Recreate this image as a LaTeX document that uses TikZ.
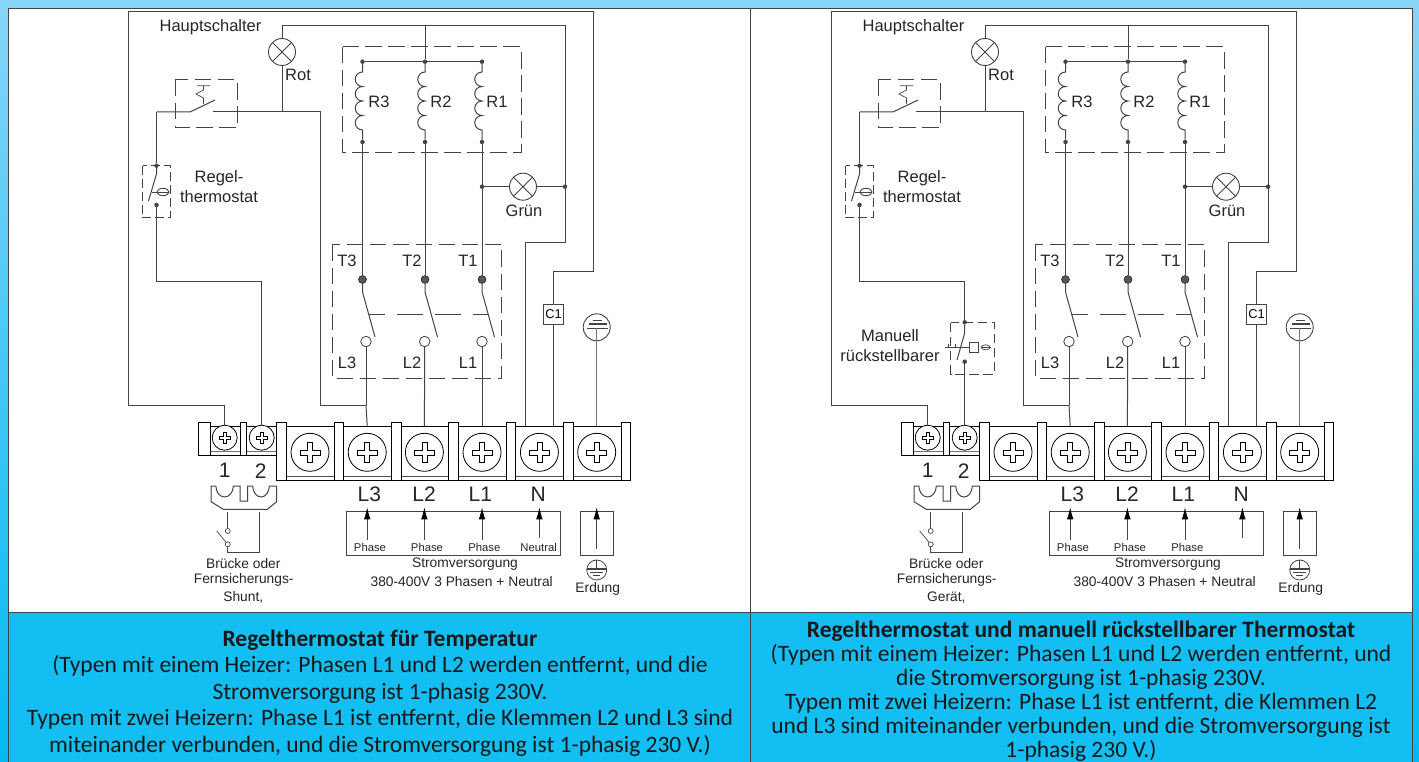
\documentclass[tikz,border=0pt]{standalone}
\usepackage{fontspec}
\setmainfont{Liberation Sans}
\newfontfamily\capfont{Carlito}
\usetikzlibrary{
    arrows.meta,
    calc,
    positioning,
    shapes.geometric
}
\definecolor{ltgrau}{HTML}{444444}
\definecolor{himmel}{HTML}{86D5F8}
\definecolor{ozean}{HTML}{00BAF4}
\definecolor{tafel}{HTML}{13BEF3}
\tikzset{ltg/.style={draw=ltgrau, line width=1pt}}
\tikzset{dbox/.style={draw=ltgrau, line width=1pt, dash pattern=on 16.5pt off 6.5pt}}
\tikzset{kpkt/.style={inner sep=0pt, minimum size=4.5pt, circle, fill=ltgrau}}
\tikzset{tpkt/.style={inner sep=0pt, minimum size=8pt, circle, draw=black, fill=ltgrau!90}}
\tikzset{opkt/.style={inner sep=0pt, minimum size=10.5pt, circle, draw=ltgrau, line width=0.8pt, fill=white}}
\tikzset{kpkto/.style={inner sep=0pt, minimum size=5pt, circle, draw=ltgrau, line width=0.7pt, fill=white}}
\tikzset{lampe/.style={inner sep=0pt, minimum size=27pt, circle, draw=ltgrau, line width=0.9pt, path picture={
    \draw[ltgrau, line width=0.8pt] (path picture bounding box.north west) -- (path picture bounding box.south east)
    (path picture bounding box.north east) -- (path picture bounding box.south west);}}}
\tikzset{schraube/.style={inner sep=0pt, circle, draw=black, line width=0.8pt, fill=white}}
\tikzset{steg/.style={draw=black, line width=0.8pt, fill=white}}
\tikzset{pfeil/.style={draw=ltgrau, line width=0.8pt, -{Latex[length=12pt,width=6.5pt,black]}}}
\tikzset{tlab/.style={inner sep=0pt, text=black!85, font=\fontsize{16.5pt}{18pt}\selectfont}}
\tikzset{klab/.style={inner sep=0pt, text=black!85, font=\fontsize{21pt}{23pt}\selectfont}}
\tikzset{ulab/.style={inner sep=0pt, text=black!85, font=\fontsize{13.8pt}{16pt}\selectfont}}
\tikzset{plab/.style={inner sep=0pt, text=black!85, font=\fontsize{11.3pt}{13pt}\selectfont}}
\tikzset{capt/.style={inner sep=0pt, align=center, text=black!90, font=\capfont\fontsize{23.5pt}{26.5pt}\selectfont}}
\tikzset{schlitz/.pic={\draw[black, line width=0.6pt, fill=white] (-1,-.25) -- (-.25,-.25) -- (-.25,-1) -- (.25,-1) -- (.25,-.25)
    -- (1,-.25) -- (1,.25) -- (.25,.25) -- (.25,1) -- (-.25,1) -- (-.25,.25) -- (-1,.25) -- cycle;}}

\newcommand{\schaltplan}{
    % klemmleiste
    \draw[steg] (198.3,426) rectangle (276.7,455);
    \draw[black!55] (210.7,450.7) -- (276.7,450.7);
    \draw[steg] (276.7,426) rectangle (630,480.7);
    \draw[black!70] (286,476) -- (625,476);
    \draw[steg] (198.3,422) rectangle (210.7,455);
    \draw[steg] (240.7,422) rectangle (246.7,455);
    \foreach \x in {281.3,338.7,396.5,453.5,511,568.3,625.7}
        \draw[steg] (\x-4.7,422) rectangle (\x+4.7,480.7);

    \foreach \i/\x in {1/224.7,2/261.7}{
        \node[schraube, minimum size=25pt] (sk\i) at (\x,437.7) {};
        \pic[scale=5.5] at (sk\i) {schlitz};
        \coordinate (k\i) at (\x,426);
    }
    \foreach \i/\x in {0/310,3/367.2,4/424.4,5/482,6/539.4,7/596.7}{
        \node[schraube, minimum size=38pt] (sk\i) at (\x,452.3) {};
        \pic[scale=10] at (sk\i) {schlitz};
        \coordinate (k\i) at (\x,426);
    }

    % aussenleitung und leuchte rot
    \coordinate (a1) at (128,405);
    \coordinate (a2) at (128,12);
    \coordinate (a3) at (593,12);
    \coordinate (a4) at (593,271);
    \coordinate (a5) at (553.5,271);
    \draw[ltg] (k1) |- (a1) -- (a2) -- (a3) -- (a4) -- (a5) -- (k6-|a5);

    \coordinate (b1) at (282,26);
    \coordinate (b2) at (565,26);
    \coordinate (b3) at (565,243);
    \coordinate (b4) at (525,243);
    \draw[ltg] (b1) -- (b2) -- (b3) -- (b4) -- (k6-|b4);
    \node[lampe] (rot) at (282,52) {};
    \draw[ltg] (b1) -- (rot);

    \coordinate (c0) at (282,112);
    \coordinate (c1) at (156.5,112);
    \coordinate (c2) at (190,112);
    \coordinate (c3) at (213,112);
    \coordinate (c4) at (320,112);
    \coordinate (c5) at (320,405);
    \coordinate (c6) at (366,405);
    \draw[ltg] (rot) -- (c0);
    \draw[ltg] (c3) -- (c4) -- (c5) -- (c6);

    % hauptschalter
    \draw[dbox] (175,80) rectangle (237,128);
    \draw[ltg] (c1) -- (c2) -- (215,100);
    \draw[ltg, line width=0.7pt] (197,85.7) -- (210,85.7) (203.5,85.7) -- (203.5,90) -- (196,94) -- (203.5,98) -- (203.5,104);

    % regelthermostat
    \node[kpkt] (th1) at (156.5,165.7) {};
    \node[kpkt] (th2) at (156.5,205) {};
    \draw[ltg] (c1) -- (th1);
    \draw[dbox, dash pattern=on 9pt off 4pt] (142.7,165.7) rectangle (170.7,218);
    \draw[ltg] (th1) -- (156.5,174) -- (148.5,201);
    \draw[ltg, line width=0.8pt] (152,192) -- (168.5,192);
    \draw[ltg, line width=0.9pt] (163,192) ellipse [x radius=6pt, y radius=3.7pt];
    \coordinate (knick) at (261.7,281);
    \draw[ltg] (th2) |- (knick);

    % heizer
    \draw[dbox] (342.7,47) rectangle (521,152.7);
    \foreach \i/\x in {3/362.5,2/425,1/482}{
        \node[kpkt] (ro\i) at (\x,61.7) {};
        \node[kpkt] (ru\i) at (\x,142) {};
        \draw[ltg] (ro\i) -- ++(0,10.3) arc[start angle=90, end angle=270, radius=7.25pt]
        arc[start angle=90, end angle=270, radius=7.25pt]
        arc[start angle=90, end angle=270, radius=7.25pt]
        arc[start angle=90, end angle=270, radius=7.25pt] -- (ru\i);
    }
    \draw[ltg] (ro3) -- (ro1);
    \draw[ltg] (ro2) -- (ro2|-b1);

    % schuetz
    \draw[dbox] (332,244.7) rectangle (501.7,378);
    \foreach \i/\x/\xl in {3/362.5/366,2/425/424.7,1/482/482}{
        \node[tpkt] (t\i) at (\x,279.5) {};
        \node[opkt] (l\i) at (\xl,341.5) {};
        \draw[ltg] (ru\i) -- (t\i);
        \draw[ltg] (t\i) -- ++(0,12.5) -- ++(12.5,45);
    }
    \draw[ltg, dash pattern=on 26pt off 12pt, dash phase=10pt] (369,314.3) -- (488,314.3);
    \draw[ltg] (l3) -- (l3|-c6);
    \draw[ltg] (c6) -- (k3);
    \draw[ltg] (l2) -- (k4);
    \draw[ltg] (l1) -- (k5);

    % leuchte gruen
    \node[lampe] (gruen) at (523,186.7) {};
    \node[kpkt] (gj) at (482,186.7) {};
    \node[kpkt] (rj) at (565,186.7) {};
    \draw[ltg] (gj) -- (gruen) -- (rj);

    % c1 und erdung oben
    \node[draw=ltgrau, line width=0.8pt, fill=white, inner sep=0pt, minimum width=20.5pt, minimum height=20pt, font=\fontsize{12.8pt}{14pt}\selectfont] (c1box) at (553.5,314.3) {C1};
    \node[inner sep=0pt, minimum size=27pt, circle, draw=ltgrau, line width=0.9pt, fill=white] (erde) at (596.7,327.3) {};
    \draw[ltg, line width=1.6pt] (592.7,320.3) -- (601.7,320.3) (589,324) -- (606.7,324) (586.7,328.3) -- (608.3,328.3);
    \coordinate (eb) at (596.7,328.3);
    \draw[draw=black!55, line width=1.1pt] (eb) -- (k7);

    % texte
    \node[tlab] (thaupt) at (210.5,27) {Hauptschalter};
    \node[tlab] (trot) at (298,75) {Rot};
    \node[tlab, align=center, font=\fontsize{16.5pt}{20pt}\selectfont] (tregel) at (219,187) {Regel-\\thermostat};
    \foreach \i/\x in {3/379,2/441,1/497}
        \node[tlab] (tr\i) at (\x,102) {R\i};
    \node[tlab] (tgruen) at (524,211) {Grün};
    \foreach \i/\x in {3/347,2/412,1/468}{
        \node[tlab] (tt\i) at (\x,261) {T\i};
        \node[tlab] (tl\i) at (\x,362.5) {L\i};
    }
    \node[klab] (k1lab) at (224.7,470.7) {1};
    \node[klab] (k2lab) at (260.7,470.7) {2};
    \node[klab] (kl3) at (369.3,494) {L3};
    \node[klab] (kl2) at (424,494) {L2};
    \node[klab] (kl1) at (480.3,494) {L1};
    \node[klab] (kn) at (538.3,494) {N};

    % bruecke
    \draw[ltg] (211,486) -- (211,501.7) -- (223.3,509.3) -- (267.3,509.3) -- (276.7,501.7) -- (276.7,486) -- (269.3,486)
    arc[start angle=0, end angle=-180, x radius=8.3pt, y radius=11pt] -- (247.7,486) -- (247.7,501) -- (240,501) -- (240,486) -- (233.3,486)
    arc[start angle=0, end angle=-180, x radius=8.7pt, y radius=11pt] -- cycle;
    \node[kpkto] (so) at (227.7,531) {};
    \node[kpkto] (su) at (227.7,544.3) {};
    \coordinate (sa) at (227.7,512);
    \coordinate (sb) at (227.7,552.7);
    \coordinate (sc) at (259.3,552.7);
    \coordinate (sd) at (259.3,512);
    \draw[ltg] (sa) -- (so);
    \draw[ltg] (su) -- (sb) -- (sc) -- (sd);
    \draw[ltg, line width=0.7pt] (su) -- (216.7,531);

    % versorgung
    \draw[ltg] (346.7,511.7) rectangle (560,555);
    \draw[ltg] (580.7,511.7) rectangle (613.3,555);
    \foreach \x in {367.2,424.4,482}
        \draw[pfeil] (\x,540) -- (\x,507.3);
    \draw[pfeil] (539.4,538) -- (539.4,507.3);
    \draw[pfeil] (596.7,549) -- (596.7,507.3);
    \foreach \i/\x in {3/370,2/427,1/484.3}
        \node[plab] (ph\i) at (\x,547.7) {Phase};
    \node[ulab] (tstrom) at (465,564.3) {Stromversorgung};
    \node[ulab] (tvolt) at (461.7,581.7) {380-400V 3 Phasen + Neutral};
    \node[ulab] (terd) at (597.7,589.3) {Erdung};
    \node[ulab] (tbr1) at (243.3,563.3) {Brücke oder};
    \node[ulab] (tbr2) at (243.7,580.3) {Fernsicherungs-};

    % erdzeichen unten
    \node[inner sep=0pt, minimum size=20pt, circle, draw=ltgrau, line width=0.8pt] (pe) at (596.7,570) {};
    \coordinate (pe0) at (596.7,569);
    \draw[ltg] (pe.north) -- (pe0);
    \draw[ltg, line width=1.1pt] (587,569) -- (606.4,569);
    \draw[ltg] (590,572.3) -- (603.4,572.3) (593,575.4) -- (600.4,575.4);
}

\begin{document}
\begin{tikzpicture}[x=1pt, y=-1pt]
    \useasboundingbox (0,0) rectangle (1419,762);
    \shade[top color=himmel, bottom color=ozean] (0,0) rectangle (1419,762);
    \fill[white] (8,8) rectangle (1412,612);
    \fill[tafel] (8,612) rectangle (1412,762);
    \draw[ltgrau, line width=0.9pt] (8,762) -- (8,8) -- (1412,8) -- (1412,762);
    \draw[ltgrau, line width=0.9pt] (8,612) -- (1412,612);
    \draw[ltgrau, line width=0.9pt] (750,8) -- (750,762);

    \begin{scope}[name prefix=li-]
        \schaltplan
        \node[ulab] (tbr3) at (243.3,597.3) {Shunt,};
        \node[plab] (ph0) at (538.7,547.7) {Neutral};
        \draw[ltg] (knick) -- (k2);
    \end{scope}

    \begin{scope}[xshift=703pt, name prefix=re-]
        \schaltplan
        \node[ulab] (tbr3) at (243.3,597.3) {Gerät,};
        % manuell rueckstellbar
        \draw[dbox, dash pattern=on 9.5pt off 4.5pt] (247.7,322.7) rectangle (291.7,374);
        \node[kpkt] (mo) at (261.7,322.3) {};
        \node[kpkt] (mu) at (261.7,361.7) {};
        \draw[ltg] (knick) -- (mo);
        \draw[ltg] (mu) -- (k2);
        \draw[ltg] (mo) -- (261.7,333) -- (254,360);
        \draw[ltg, line width=0.7pt] (242.3,347.3) -- (266.3,347.3) (245.5,344) -- (245.5,347.3) (252,344) -- (252,347.3);
        \node[draw=ltgrau, line width=0.7pt, inner sep=0pt, minimum size=9.5pt] (mq) at (270.8,347.5) {};
        \node[inner sep=0pt, draw=ltgrau, line width=0.7pt, ellipse, minimum width=9pt, minimum height=5pt] (me) at (282.7,347.3) {};
        \draw[ltg, line width=0.6pt] (me.west) -- (me.east);
        \node[tlab] (tman1) at (187,336) {Manuell};
        \node[tlab] (tman2) at (187,355.7) {rückstellbarer};
    \end{scope}

    \node[capt] (captl) at (380,693) {\textbf{Regelthermostat für Temperatur}\\(Typen mit einem Heizer: Phasen L1 und L2 werden entfernt, und die\\Stromversorgung ist 1-phasig 230V.\\Typen mit zwei Heizern: Phase L1 ist entfernt, die Klemmen L2 und L3 sind\\miteinander verbunden, und die Stromversorgung ist 1-phasig 230 V.)};
    \node[capt, font=\capfont\fontsize{23.5pt}{24pt}\selectfont] (captr) at (1081,691) {\textbf{Regelthermostat und manuell rückstellbarer Thermostat}\\(Typen mit einem Heizer: Phasen L1 und L2 werden entfernt, und\\die Stromversorgung ist 1-phasig 230V.\\Typen mit zwei Heizern: Phase L1 ist entfernt, die Klemmen L2\\und L3 sind miteinander verbunden, und die Stromversorgung ist\\1-phasig 230 V.)};
\end{tikzpicture}
\end{document}
